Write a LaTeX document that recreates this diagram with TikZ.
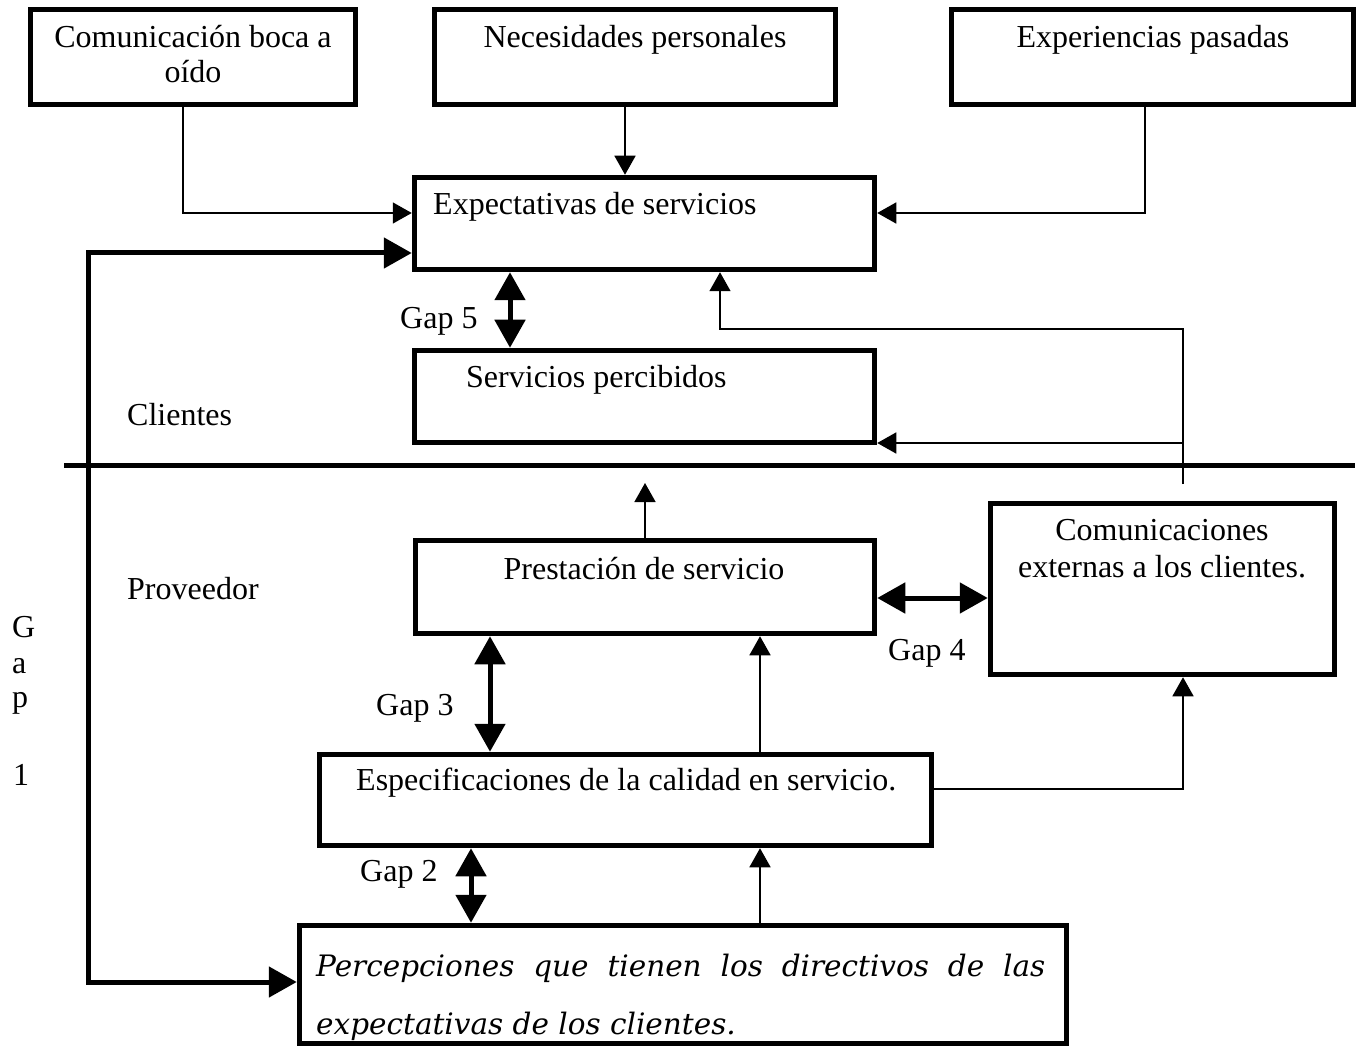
\documentclass[tikz,border=0pt]{standalone}
\usepackage{fontspec}
\setmainfont{Liberation Serif}
\newfontfamily\percfont{DejaVu Serif}
\usetikzlibrary{arrows.meta}
\begin{document}
\begin{tikzpicture}[x=1pt,y=-1pt,
  box/.style={draw, line width=5.5pt, outer sep=2.75pt, inner sep=0pt, rectangle},
  txt/.style={font=\fontsize{32}{36}\selectfont, inner sep=0pt},
  perc/.style={font=\fontsize{29.5}{58}\selectfont\percfont\itshape, inner sep=0pt},
  thinarrow/.style={line width=1.5pt, -{Triangle[length=19pt,width=21pt]}},
  gaparrow/.style={line width=5pt, {Triangle[length=28pt,width=30pt]}-{Triangle[length=28pt,width=30pt]}},
  bigarrow/.style={line width=5pt, line join=miter, {Triangle[length=28pt,width=30pt]}-{Triangle[length=28pt,width=30pt]}},
]
\useasboundingbox (0,0) rectangle (1359,1048);

% boxes
\node[box, minimum width=325pt, minimum height=95pt] (b1) at (193,57) {};
\node[box, minimum width=401pt, minimum height=95pt] (b2) at (635,57) {};
\node[box, minimum width=402pt, minimum height=95pt] (b3) at (1152.5,57) {};
\node[box, minimum width=460pt, minimum height=92pt] (ex) at (644.5,223.5) {};
\node[box, minimum width=460pt, minimum height=92pt] (sp) at (644.5,396.5) {};
\node[box, minimum width=459pt, minimum height=93pt] (pr) at (645,587) {};
\node[box, minimum width=344pt, minimum height=171pt] (cm) at (1162.5,589) {};
\node[box, minimum width=612pt, minimum height=91pt] (es) at (625.5,800) {};
\node[box, minimum width=767pt, minimum height=118pt] (pc) at (683,984.5) {};

% texts
\node[txt, anchor=base] (t1a) at (193,48) {Comunicación boca a};
\node[txt, anchor=base] (t1b) at (193,83) {oído};
\node[txt, anchor=base] (t2) at (635,48) {Necesidades personales};
\node[txt, anchor=base] (t3) at (1153,48) {Experiencias pasadas};
\node[txt, anchor=base west] (tex) at (433,215) {Expectativas de servicios};
\node[txt, anchor=base west] (tsp) at (466,387) {Servicios percibidos};
\node[txt, anchor=base] (tpr) at (644,579) {Prestación de servicio};
\node[txt, anchor=base] (tcma) at (1162,540) {Comunicaciones};
\node[txt, anchor=base] (tcmb) at (1162,577) {externas a los clientes.};
\node[txt, anchor=base west] (tes) at (356,790) {Especificaciones de la calidad en servicio.};
\node[perc, anchor=base west] (tpca) at (316,976) {\makebox[729pt][s]{Percepciones que tienen los directivos de las}};
\node[perc, anchor=base west] (tpcb) at (316,1034) {expectativas de los clientes.};

\node[txt, anchor=base west] (cli) at (127,425) {Clientes};
\node[txt, anchor=base west] (pro) at (127,599) {Proveedor};
\node[txt, anchor=base west] (g5) at (400,328) {Gap 5};
\node[txt, anchor=base west] (g4) at (888,660) {Gap 4};
\node[txt, anchor=base west] (g3) at (376,715) {Gap 3};
\node[txt, anchor=base west] (g2) at (360,881) {Gap 2};
\node[txt, anchor=base west] (g1a) at (12,637) {G};
\node[txt, anchor=base west] (g1b) at (12,673) {a};
\node[txt, anchor=base west] (g1c) at (12,707) {p};
\node[txt, anchor=base west] (g1d) at (13,785) {1};

% divider
\draw[line width=5pt] (64,465) -- (1355,465);

% free ends
\coordinate (cmtop) at (1183,484);
\coordinate (prup) at (645,483);

% thin connectors
\draw[thinarrow] (b1.south -| 183,0) -- (183,213) -- (ex.west |- 0,213);
\draw[thinarrow] (b2.south -| 625,0) -- (ex.north -| 625,0);
\draw[thinarrow] (b3.south -| 1145,0) -- (1145,213) -- (ex.east |- 0,213);
\draw[thinarrow] (cmtop) -- (1183,329) -- (720,329) -- (ex.south -| 720,0);
\draw[thinarrow] (1183,443) -- (sp.east |- 0,443);
\draw[thinarrow] (pr.north -| prup) -- (prup);
\draw[thinarrow] (es.north -| 760,0) -- (pr.south -| 760,0);
\draw[thinarrow] (pc.north -| 760,0) -- (es.south -| 760,0);
\draw[thinarrow] (es.east |- 0,789) -- (1183,789) -- (cm.south -| 1183,0);

% gap arrows
\draw[gaparrow] (ex.south -| 510,0) -- (sp.north -| 510,0);
\draw[gaparrow] (pr.east |- 0,598) -- (cm.west |- 0,598);
\draw[gaparrow] (pr.south -| 490,0) -- (es.north -| 490,0);
\draw[gaparrow] (es.south -| 471,0) -- (pc.north -| 471,0);
\draw[bigarrow] (ex.west |- 0,253) -- (88,253) -- (88,982) -- (pc.west |- 0,982);
\end{tikzpicture}
\end{document}
